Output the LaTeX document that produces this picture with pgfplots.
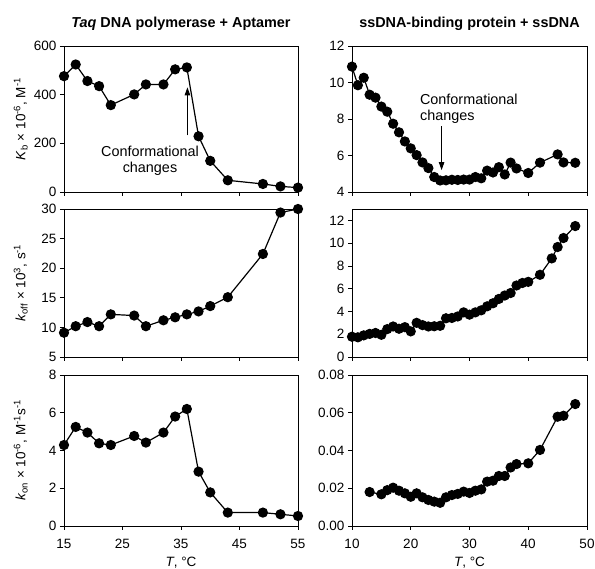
\documentclass[border=0pt]{standalone}
\usepackage{fontspec}
\setmainfont{Liberation Sans}
\usepackage{pgfplots}
\pgfplotsset{compat=1.18}
\usetikzlibrary{arrows.meta}

\pgfplotstableread{
T Kb koff kon
15 476 9.1 4.29
17 524 10.2 5.25
19 456 10.9 4.95
21 435 10.2 4.38
23 357 12.2 4.29
27 401 12.0 4.77
29 442 10.2 4.42
32 442 11.2 4.95
34 504 11.7 5.80
36 512 12.2 6.20
38 229 12.7 2.88
40 128 13.6 1.78
43 48 15.1 0.71
49 33 22.4 0.71
52 23 29.4 0.62
55 18 30.0 0.53
}\taq

\pgfplotstableread{
T Kb
10 10.87
11 9.85
12 10.26
13 9.33
14 9.17
15 8.68
16 8.40
17 7.74
18 7.27
19 6.77
20 6.39
21 6.02
22 5.62
23 5.31
24 4.82
25 4.63
26 4.64
27 4.67
28 4.66
29 4.68
30 4.68
31 4.82
32 4.75
33 5.17
34 5.07
35 5.36
36 4.96
37 5.61
38 5.29
40 5.04
42 5.61
45 6.06
46 5.62
48 5.60
}\ssbKb

\pgfplotstableread{
T koff
10 1.78
11 1.73
12 1.90
13 2.03
14 2.11
15 1.95
16 2.45
17 2.68
18 2.48
19 2.62
20 2.25
21 3.00
22 2.80
23 2.68
24 2.70
25 2.74
26 3.40
27 3.43
28 3.56
29 3.92
30 3.72
31 3.92
32 4.10
33 4.45
34 4.72
35 5.10
36 5.40
37 5.62
38 6.28
39 6.50
40 6.60
42 7.22
44 8.66
45 9.66
46 10.45
48 11.50
}\ssbkoff

\pgfplotstableread{
T kon
13 0.0180
15 0.0168
16 0.0190
17 0.0203
18 0.0187
19 0.0173
20 0.0155
21 0.0173
22 0.0152
23 0.0138
24 0.0129
25 0.0123
26 0.0152
27 0.0164
28 0.0170
29 0.0182
30 0.0175
31 0.0187
32 0.0194
33 0.0235
34 0.0240
35 0.0265
36 0.0265
37 0.0310
38 0.0328
40 0.0332
42 0.0403
45 0.0579
46 0.0584
48 0.0646
}\ssbkon

\pgfplotsset{
  dotline/.style={black, line width=1.2pt, mark=*, mark size=4.5pt,
    mark options={fill=black, draw=black, solid}},
  panel/.style={
    scale only axis, anchor=south west, clip=false,
    axis line style={line width=0.8pt},
    tick align=outside, xtick pos=left, ytick pos=left,
    major tick length=4pt,
    tick style={black, line width=0.8pt},
    ticklabel style={font=\fontsize{13.5}{14}\selectfont},
    xticklabel style={yshift=-6pt},
    /pgf/number format/assume math mode=true,
    scaled y ticks=false,
    ylabel style={at={(axis description cs:-0.185,0.5)}, anchor=center,
      font=\fontsize{13.5}{14}\selectfont},
    xlabel style={at={(axis description cs:0.5,0)}, anchor=center, yshift=-37pt,
      font=\fontsize{13.5}{14}\selectfont},
    title style={at={(axis description cs:0.5,1)}, anchor=center, yshift=16pt,
      font=\fontsize{14.4}{16}\selectfont\bfseries},
  },
  leftcol/.style={panel, width=234pt, xmin=15, xmax=55, xtick={15,25,35,45,55}},
  rightcol/.style={panel, width=235pt, xmin=10, xmax=50, xtick={10,20,30,40,50}},
}

\begin{document}
\begin{tikzpicture}
\useasboundingbox (0,0) rectangle (595pt,569pt);

% left column
\begin{axis}[leftcol, at={(64pt,377pt)}, height=146pt,
  ymin=0, ymax=600, ytick={0,200,400,600}, xticklabels={},
  title={\textit{Taq} DNA polymerase + Aptamer},
  ylabel={\textit{K}\textsubscript{b} × 10\textsuperscript{-6}, M\textsuperscript{-1}}]
  \addplot[dotline] table[x=T, y=Kb] {\taq};
  \draw[line width=0.9pt, -{Triangle[length=8pt,width=5.5pt]}] (axis cs:36.1,233) -- (axis cs:36.1,430);
  \node[anchor=north, align=center, font=\fontsize{14.4}{16}\selectfont, inner sep=0pt]
    at (axis cs:29.7,190) {Conformational\\changes};
\end{axis}

\begin{axis}[leftcol, at={(64pt,212pt)}, height=148pt,
  ymin=5, ymax=30, ytick={5,10,15,20,25,30}, xticklabels={},
  ylabel={\textit{k}\textsubscript{off} × 10\textsuperscript{3}, s\textsuperscript{-1}}]
  \addplot[dotline] table[x=T, y=koff] {\taq};
\end{axis}

\begin{axis}[leftcol, at={(64pt,43pt)}, height=151pt,
  ymin=0, ymax=8, ytick={0,2,4,6,8},
  xlabel={\textit{T}, °C},
  ylabel={\textit{k}\textsubscript{on} × 10\textsuperscript{-6}, M\textsuperscript{-1}s\textsuperscript{-1}}]
  \addplot[dotline] table[x=T, y=kon] {\taq};
\end{axis}

% right column
\begin{axis}[rightcol, at={(352pt,377pt)}, height=146pt,
  ymin=4, ymax=12, ytick={4,6,8,10,12}, xticklabels={},
  title={ssDNA-binding protein + ssDNA}]
  \addplot[dotline] table[x=T, y=Kb] {\ssbKb};
  \draw[line width=0.9pt, -{Triangle[length=8pt,width=5.5pt]}] (axis cs:25.25,7.6) -- (axis cs:25.25,5.2);
  \node[anchor=north west, align=left, font=\fontsize{14.4}{16}\selectfont, inner sep=0pt]
    at (axis cs:21.55,9.4) {Conformational\\changes};
\end{axis}

\begin{axis}[rightcol, at={(352pt,212pt)}, height=148pt,
  ymin=0, ymax=13, ytick={0,2,4,6,8,10,12}, xticklabels={}]
  \addplot[dotline] table[x=T, y=koff] {\ssbkoff};
\end{axis}

\begin{axis}[rightcol, at={(352pt,43pt)}, height=151pt,
  ymin=0, ymax=0.08, ytick={0,0.02,0.04,0.06,0.08},
  yticklabel style={/pgf/number format/.cd, fixed, fixed zerofill, precision=2},
  xlabel={\textit{T}, °C}]
  \addplot[dotline] table[x=T, y=kon] {\ssbkon};
\end{axis}
\end{tikzpicture}
\end{document}
